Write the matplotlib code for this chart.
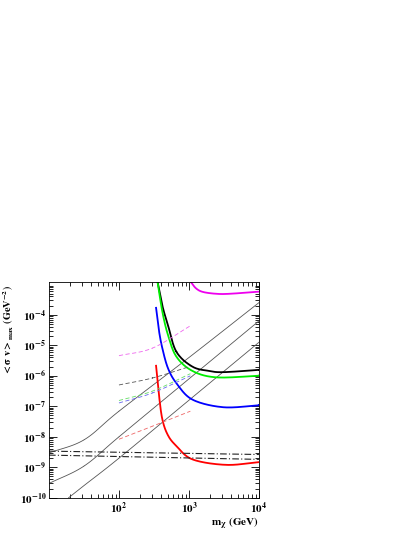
import matplotlib
matplotlib.use('Agg')
import matplotlib.pyplot as plt
import numpy as np

plt.rcParams['font.family'] = ['Liberation Serif', 'DejaVu Serif']
plt.rcParams['mathtext.fontset'] = 'stix'

# log10 coordinates
diag1_x = [1.0, 1.5, 2.0, 3.0, 4.0]
diag1_y = [-8.53, -8.1, -7.16, -5.4, -3.6]
diag2_x = [1.0, 1.5, 2.0, 3.0, 4.0]
diag2_y = [-9.53, -8.96, -8.0, -6.1, -4.2]
diag3_x = [1.28, 1.5, 2.0, 3.0, 4.0]
diag3_y = [-10.0, -9.6, -8.7, -6.8, -4.9]

black_x = [2.55, 2.62, 2.70, 2.82, 3.05, 3.29, 3.49, 3.97, 4.0]
black_y = [-2.9, -3.7, -4.34, -5.21, -5.70, -5.84, -5.88, -5.81, -5.80]
green_x = [2.55, 2.62, 2.70, 2.82, 3.05, 3.39, 3.97, 4.0]
green_y = [-2.9, -3.9, -4.66, -5.37, -5.84, -6.05, -6.0, -5.99]
blue_x = [2.53, 2.57, 2.62, 2.70, 2.82, 3.05, 3.49, 3.97, 4.0]
blue_y = [-3.77, -4.5, -5.10, -5.75, -6.24, -6.78, -7.03, -6.97, -6.96]
red_x = [2.53, 2.57, 2.62, 2.70, 2.82, 3.05, 3.53, 4.0]
red_y = [-5.67, -6.6, -7.43, -7.95, -8.30, -8.74, -8.92, -8.83]
mag_x = [3.02, 3.10, 3.20, 3.39, 3.58, 4.0]
mag_y = [-2.9, -3.13, -3.25, -3.31, -3.31, -3.24]

dash_x = [2.0, 2.48, 3.02]
dash_mag = [-5.34, -5.09, -4.36]
dash_blk = [-6.3, -6.07, -5.69]
dash_grn = [-6.81, -6.5, -5.93]
dash_blu = [-6.89, -6.56, -6.0]
dash_red = [-8.08, -7.65, -7.16]

dd_x = [1.0, 4.0]
dd_a = [-8.47, -8.58]
dd_b = [-8.6, -8.74]


def smooth(xs, ys, n=30):
    # Catmull-Rom through the read points (in log space)
    p = np.column_stack([xs, ys]).astype(float)
    if len(p) < 3:
        return 10 ** p[:, 0], 10 ** p[:, 1]
    p = np.vstack([2 * p[0] - p[1], p, 2 * p[-1] - p[-2]])
    out = []
    t = np.linspace(0, 1, n)[:, None]
    for i in range(1, len(p) - 2):
        p0, p1, p2, p3 = p[i - 1], p[i], p[i + 1], p[i + 2]
        seg = 0.5 * (2 * p1 + (-p0 + p2) * t + (2 * p0 - 5 * p1 + 4 * p2 - p3) * t ** 2
                     + (-p0 + 3 * p1 - 3 * p2 + p3) * t ** 3)
        out.append(seg)
    out = np.vstack(out)
    return 10 ** out[:, 0], 10 ** out[:, 1]


fig = plt.figure(figsize=(4.15, 5.37), dpi=100)
ax = fig.add_axes([0.118, 0.073, 0.506, 0.402])

for xs, ys in [(diag1_x, diag1_y), (diag2_x, diag2_y), (diag3_x, diag3_y)]:
    ax.plot(*smooth(xs, ys), color='#555555', lw=0.6)

for xs, ys, c in [(black_x, black_y, 'black'), (green_x, green_y, '#00ee00'),
                  (blue_x, blue_y, '#0000ff'), (red_x, red_y, '#ff0000'),
                  (mag_x, mag_y, '#ee00ee')]:
    ax.plot(*smooth(xs, ys), color=c, lw=1.3)

for ys, c in [(dash_mag, '#ee66ee'), (dash_blk, '#555555'), (dash_grn, '#66dd66'),
              (dash_blu, '#6666ee'), (dash_red, '#ee6666')]:
    ax.plot(*smooth(dash_x, ys), color=c, lw=0.6, ls=(0, (5, 3)))

for ys in [dd_a, dd_b]:
    ax.plot(*smooth(dd_x, ys), color='#222222', lw=0.8, ls=(0, (6, 2, 1, 2)))

ax.set_xscale('log')
ax.set_yscale('log')
ax.set_xlim(10, 1e4)
ax.set_ylim(1e-10, 1.2e-3)
ax.set_xticks([1e2, 1e3, 1e4])
ax.set_xticklabels([r'$\mathbf{10^{2}}$', r'$\mathbf{10^{3}}$', r'$\mathbf{10^{4}}$'])
yt = [1e-10, 1e-9, 1e-8, 1e-7, 1e-6, 1e-5, 1e-4]
ax.set_yticks(yt)
ax.set_yticklabels([r'$\mathbf{10^{%d}}$' % e for e in range(-10, -3)])
ax.tick_params(which='both', direction='in', top=True, right=True, labelsize=8, width=0.6)
ax.tick_params(which='major', length=6, pad=2)
ax.tick_params(which='minor', length=3)
for s in ax.spines.values():
    s.set_linewidth(0.6)

fig.text(259 / 415, 1 - 524 / 537, r'$\mathbf{m_{\chi}}$ $\mathbf{(GeV)}$', fontsize=8,
         ha='right', va='center')
fig.text(9 / 415, 1 - 285 / 537, r'$\mathbf{<\sigma\ v>_{max}}$ $\mathbf{(GeV^{-2})}$',
         fontsize=7.5, rotation=90, ha='center', va='top')

fig.savefig('out.png', dpi=100)
